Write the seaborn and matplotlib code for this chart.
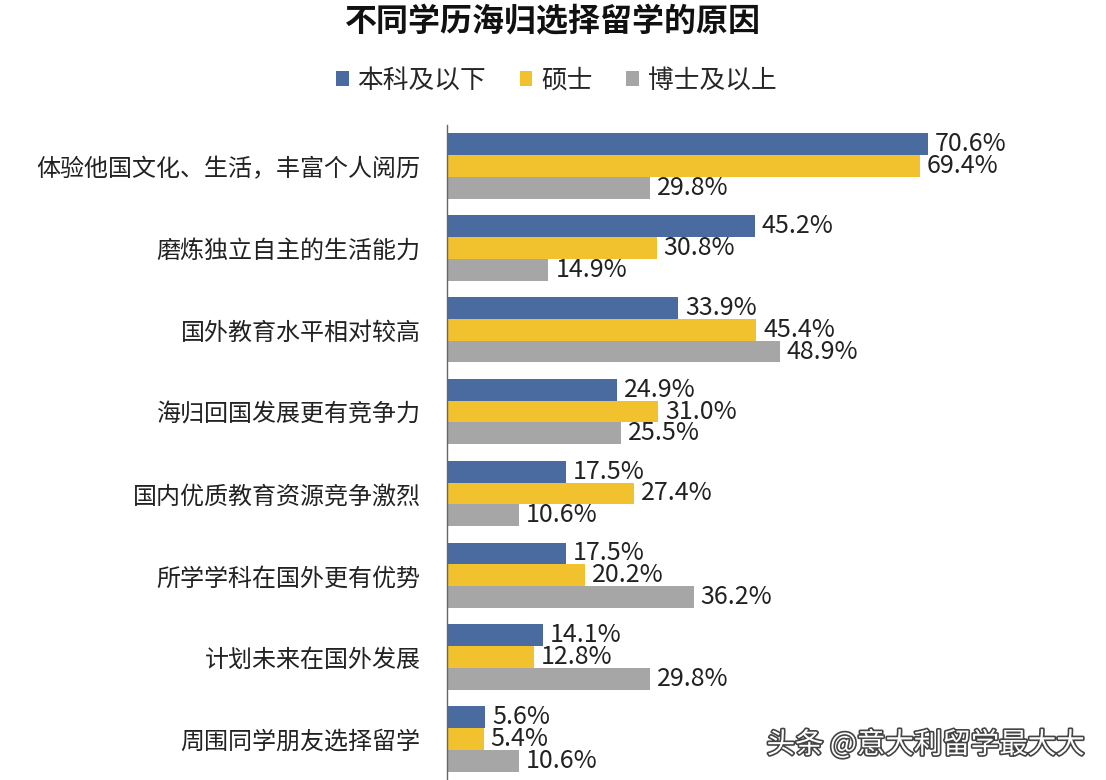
import pandas as pd
import numpy as np
import matplotlib
matplotlib.use("Agg")
import matplotlib.pyplot as plt
import matplotlib.patheffects as pe
from matplotlib.ticker import FixedLocator
import seaborn as sns

# ── data ──────────────────────────────────────
reasons = ["体验他国文化、生活，丰富个人阅历", "磨炼独立自主的生活能力", "国外教育水平相对较高",
           "海归回国发展更有竞争力", "国内优质教育资源竞争激烈", "所学学科在国外更有优势",
           "计划未来在国外发展", "周围同学朋友选择留学"]
groups = ["本科及以下", "硕士", "博士及以上"]
bachelor = [70.6, 45.2, 33.9, 24.9, 17.5, 17.5, 14.1, 5.6]
master   = [69.4, 30.8, 45.4, 31.0, 27.4, 20.2, 12.8, 5.4]
doctor   = [29.8, 14.9, 48.9, 25.5, 10.6, 36.2, 29.8, 10.6]

colors = ["#4a6b9f", "#f2c12e", "#a6a6a6"]

df = pd.DataFrame({
    "reason": reasons * 3,
    "group":  [g for g in groups for _ in reasons],
    "value":  bachelor + master + doctor,
})

sns.set_style("white")
plt.rcParams["font.family"] = ["Noto Sans CJK SC", "DejaVu Sans"]

fig = plt.figure(figsize=(11.06, 7.80), dpi=100)
ax = fig.add_axes([447 / 1106, 0.0, 1 - 447 / 1106, 1 - 125 / 780])

sns.barplot(data=df, y="reason", x="value", hue="group", orient="h",
            palette=colors, order=reasons, hue_order=groups, ax=ax,
            width=0.8, saturation=1, edgecolor="none")

# value labels
for cont in ax.containers:
    ax.bar_label(cont, labels=[f"{v:.1f}%" for v in cont.datavalues],
                 padding=5, fontsize=18, color="#222222")

ax.set_xlim(0, (1106 - 447) / 6.81)
ax.set_ylim(len(reasons) - 0.5, -0.5)
ax.set_xlabel("")
ax.set_ylabel("")
ax.set_xticks([])
ax.tick_params(axis="y", which="major", length=0, pad=19, labelsize=17.3, labelcolor="#222222")
ax.yaxis.set_minor_locator(FixedLocator(np.arange(-0.5, len(reasons), 1.0)))
ax.tick_params(axis="y", which="minor", length=6, width=1, color="#666666")
for s in ["top", "right", "bottom"]:
    ax.spines[s].set_visible(False)
ax.spines["left"].set_color("#666666")
ax.spines["left"].set_linewidth(1)

sns.move_legend(ax, "center", bbox_to_anchor=(0.503, 0.897), bbox_transform=fig.transFigure,
                ncol=3, frameon=False, title=None, fontsize=18.5, handlelength=0.5,
                handleheight=0.5, handletextpad=0.35, columnspacing=1.3)

fig.text(0.5, 1 - 22 / 780, "不同学历海归选择留学的原因", ha="center", va="center",
         fontsize=23, fontweight="bold", color="#111111")

fig.text(0.981, 1 - 745 / 780, "头条 @意大利留学最大大", ha="right", va="center",
         fontsize=20.5, color="white",
         path_effects=[pe.withStroke(linewidth=2.4, foreground="#444444")])

fig.savefig("out.png", dpi=100, facecolor="white")
